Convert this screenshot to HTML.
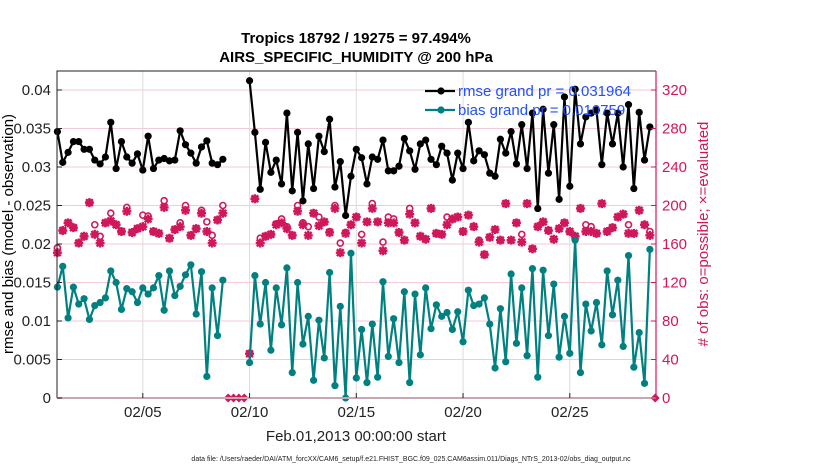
<!DOCTYPE html>
<html><head><meta charset="utf-8">
<style>
html,body{margin:0;padding:0;background:#fff;}
svg{display:block;font-family:"Liberation Sans",Arial,sans-serif;}
</style></head>
<body>
<svg id="chart" width="830" height="470" viewBox="0 0 830 470" xmlns="http://www.w3.org/2000/svg">
<g id="grid"></g>
<g id="marks"></g>
<g id="axes"></g>
<text x="356" y="43" text-anchor="middle" font-size="15" font-weight="bold">Tropics 18792 / 19275 = 97.494%</text>
<text x="356" y="62" text-anchor="middle" font-size="15" font-weight="bold">AIRS_SPECIFIC_HUMIDITY @ 200 hPa</text>
<text transform="translate(13,234) rotate(-90)" text-anchor="middle" font-size="15">rmse and bias (model - observation)</text>
<text transform="translate(708,234) rotate(-90)" text-anchor="middle" font-size="15" fill="#d1175c"># of obs: o=possible; ×=evaluated</text>
<text x="356" y="441" text-anchor="middle" font-size="15" fill="#222">Feb.01,2013 00:00:00 start</text>
<text x="411" y="461" text-anchor="middle" font-size="7" fill="#222">data file: /Users/raeder/DAI/ATM_forcXX/CAM6_setup/f.e21.FHIST_BGC.f09_025.CAM6assim.011/Diags_NTrS_2013-02/obs_diag_output.nc</text>
<g id="legend"></g>
</svg>
<script>
const rmse = [0.0346,0.0306,0.0319,0.0333,0.0333,0.0323,0.0323,0.0309,0.0304,0.0313,0.0358,0.0298,0.0333,0.0313,0.0305,0.0317,0.0296,0.0340,0.0298,0.0309,0.0311,0.0308,0.0309,0.0347,0.0329,0.0318,0.0305,0.0326,0.0334,0.0305,0.0303,0.0310,
null,null,null,null,
0.0412,0.0345,0.0271,0.0332,0.0293,0.0309,0.0278,0.0370,0.0269,0.0345,0.0256,0.0330,0.0272,0.0340,0.0320,0.0362,0.0274,0.0307,0.0237,0.0288,0.0323,0.0312,0.0278,0.0313,0.0310,0.0335,0.0295,0.0295,0.0301,0.0337,0.0321,0.0297,0.0330,0.0335,0.0310,0.0303,0.0327,
0.0318,0.0283,0.0318,0.0298,0.0358,0.0308,0.0321,0.0316,0.0292,0.0288,0.0336,0.0318,0.0346,0.0304,0.0355,0.0298,0.0370,0.0246,0.0375,0.0292,0.0355,0.0258,0.0391,0.0275,0.0401,0.0330,0.0365,0.0370,0.0374,0.0303,0.0370,0.0330,0.0370,0.0300,0.0381,0.0272,0.0371,0.0309,0.0352,null];
const bias = [0.0144,0.0171,0.0104,0.0144,0.0122,0.0129,0.0102,0.0120,0.0124,0.0130,0.0165,0.0150,0.0115,0.0142,0.0138,0.0124,0.0143,0.0135,0.0143,0.0159,0.0114,0.0165,0.0133,0.0145,0.0160,0.0173,0.0109,0.0164,0.0028,0.0143,0.0081,0.0153,
null,null,null,null,
0.0046,0.0159,0.0096,0.0150,0.0062,0.0143,0.0095,0.0169,0.0033,0.0150,0.0070,0.0106,0.0023,0.0101,0.0052,0.0163,0.0016,0.0119,0.0000,0.0188,0.0026,0.0089,0.0020,0.0096,0.0027,0.0151,0.0054,0.0103,0.0046,0.0138,0.0020,0.0135,0.0056,0.0143,0.0090,0.0121,0.0106,
0.0111,0.0089,0.0112,0.0073,0.0140,0.0120,0.0122,0.0130,0.0096,0.0039,0.0116,0.0047,0.0161,0.0071,0.0143,0.0055,0.0168,0.0027,0.0166,0.0081,0.0148,0.0053,0.0106,0.0058,0.0205,0.0033,0.0122,0.0087,0.0124,0.0069,0.0165,0.0108,0.0153,0.0067,0.0185,0.0040,0.0085,0.0019,0.0193,null];
const evaluated = [151,174,182,177,161,168,203,170,161,182,184,180,173,194,172,176,178,186,173,171,198,166,175,178,195,169,176,192,173,161,185,192,
0,0,0,0,
46,207,161,168,170,180,182,176,169,194,180,169,192,179,183,172,197,151,171,180,188,161,183,197,183,153,182,182,172,164,191,182,168,165,197,171,170,
180,186,188,173,190,178,162,149,167,175,164,202,164,182,162,202,155,178,183,174,165,176,182,173,168,197,173,173,171,202,173,177,188,191,171,171,195,180,169,0];
const possible = [156,174,182,177,161,168,203,180,168,182,192,180,173,198,172,176,190,189,173,171,205,166,175,182,200,169,176,195,183,169,185,200,
0,0,0,0,
46,207,166,168,170,181,186,178,169,200,182,178,192,188,183,173,200,161,172,180,188,170,183,202,183,162,188,186,172,164,197,182,168,165,197,171,170,
188,186,188,173,190,178,164,149,167,175,164,202,164,182,170,202,155,178,183,174,165,176,182,173,168,197,180,178,171,202,173,177,188,191,180,171,195,180,173,0];
const stepDays = 0.25;
const leftTicks = [0,0.005,0.01,0.015,0.02,0.025,0.03,0.035,0.04];
const leftTickLabels = ["0","0.005","0.01","0.015","0.02","0.025","0.03","0.035","0.04"];
const rightTicks = [0,40,80,120,160,200,240,280,320];
const xTickDays = [4,9,14,19,24];
const xTickLabels = ["02/05","02/10","02/15","02/20","02/25"];
const legendLabels = ["rmse grand pr = 0.031964","bias grand pr = 0.010759"];

const L=57,R=656,T=71,B=398;
const X0=57.4, PXD=21.35;
function xs(day){return X0+day*PXD;}
function yl(v){return B-v/0.04*(B-90);}
function yr(c){return B-c/320*(B-90);}
const NS="http://www.w3.org/2000/svg";
function mk(tag,attrs,parent){const e=document.createElementNS(NS,tag);for(const k in attrs)e.setAttribute(k,attrs[k]);parent.appendChild(e);return e;}
const grid=document.getElementById('grid'),marks=document.getElementById('marks'),axes=document.getElementById('axes'),legend=document.getElementById('legend');
const RED="#d1175c",TEAL="#008080";

leftTicks.forEach(function(v,i){
  if(i===0)return;
  const g=mk('line',{x1:L,x2:R,y1:yl(v),y2:yl(v),stroke:"#f6c9d8","stroke-width":1},grid);
  
  
});
xTickDays.forEach(function(d){
  const g=mk('line',{x1:xs(d),x2:xs(d),y1:T,y2:B,stroke:"#dcdcdc","stroke-width":1},grid);
  
  
});

function drawLine(arr,color,name){
  let segs=[],cur=[];
  arr.forEach(function(v,i){
    if(v===null){if(cur.length)segs.push(cur);cur=[];}
    else cur.push(xs(i*stepDays).toFixed(2)+","+yl(v).toFixed(2));
  });
  if(cur.length)segs.push(cur);
  segs.forEach(function(s){
    const p=mk('polyline',{points:s.join(" "),fill:"none",stroke:color,"stroke-width":2.2,"stroke-linejoin":"round"},marks);
    
    
  });
  arr.forEach(function(v,i){
    if(v===null)return;
    const c=mk('circle',{cx:xs(i*stepDays),cy:yl(v),r:3.6,fill:color},marks);
    
    
  });
}

// possible circles first
possible.forEach(function(c,i){
  if(c===0)return;
  const o=mk('circle',{cx:xs(i*stepDays),cy:yr(c),r:3,fill:"#fff",stroke:RED,"stroke-width":1.6},marks);
  
  
});
// evaluated stars on top
evaluated.forEach(function(c,i){
  const x=xs(i*stepDays);
  if(possible[i]===0){
    const d=mk('path',{d:"M"+(x-4.5)+","+B+" L"+x+","+(B-4.5)+" L"+(x+4.5)+","+B+" L"+x+","+(B+4.5)+"Z",fill:RED},marks);
    
    
    return;
  }
  const y=yr(c);
  const s=mk('path',{d:"M"+(x-4.5)+","+y+"h9M"+x+","+(y-4.5)+"v9M"+(x-3.4)+","+(y-3.4)+"l6.8,6.8M"+(x-3.4)+","+(y+3.4)+"l6.8,-6.8",stroke:RED,"stroke-width":2.4,fill:"none"},marks);
  
  
});

drawLine(bias,TEAL,'bias');
drawLine(rmse,"#000",'rmse');

let a=mk('path',{d:"M"+L+","+B+" V"+T+" H"+R,fill:"none",stroke:"#222","stroke-width":1},axes);


a=mk('line',{x1:L,x2:R,y1:B,y2:B,stroke:"#c8a6b2","stroke-width":2},axes);


a=mk('line',{x1:R,x2:R,y1:T,y2:B,stroke:RED,"stroke-width":1.2},axes);


leftTicks.forEach(function(v,i){
  const y=yl(v);
  const t=mk('line',{x1:L,x2:L+5,y1:y,y2:y,stroke:"#222"},axes);
  
  
  const tx=mk('text',{x:L-6,y:y+5,"text-anchor":"end","font-size":15,fill:"#222"},axes);
  tx.textContent=leftTickLabels[i];
  
  
});
rightTicks.forEach(function(v){
  const y=yr(v);
  const t=mk('line',{x1:R-5,x2:R,y1:y,y2:y,stroke:RED},axes);
  
  
  const tx=mk('text',{x:R+6,y:y+5,"font-size":15,fill:RED},axes);
  tx.textContent=String(v);
  
  
});
xTickDays.forEach(function(d,i){
  const x=xs(d);
  const t=mk('line',{x1:x,x2:x,y1:B-5,y2:B,stroke:"#222"},axes);
  
  
  const tx=mk('text',{x:x,y:417,"text-anchor":"middle","font-size":15,fill:"#222"},axes);
  tx.textContent=xTickLabels[i];
  
  
});

[["#000",91],[TEAL,110]].forEach(function(e,i){
  const ln=mk('line',{x1:425,x2:455,y1:e[1],y2:e[1],stroke:e[0],"stroke-width":2.2},legend);
  
  
  const c=mk('circle',{cx:441,cy:e[1],r:3.6,fill:e[0]},legend);
  
  
  const tx=mk('text',{x:458,y:e[1]+5,"font-size":15,fill:"#1f4fff"},legend);
  tx.textContent=legendLabels[i];
  
  
});
</script>
</body></html>
